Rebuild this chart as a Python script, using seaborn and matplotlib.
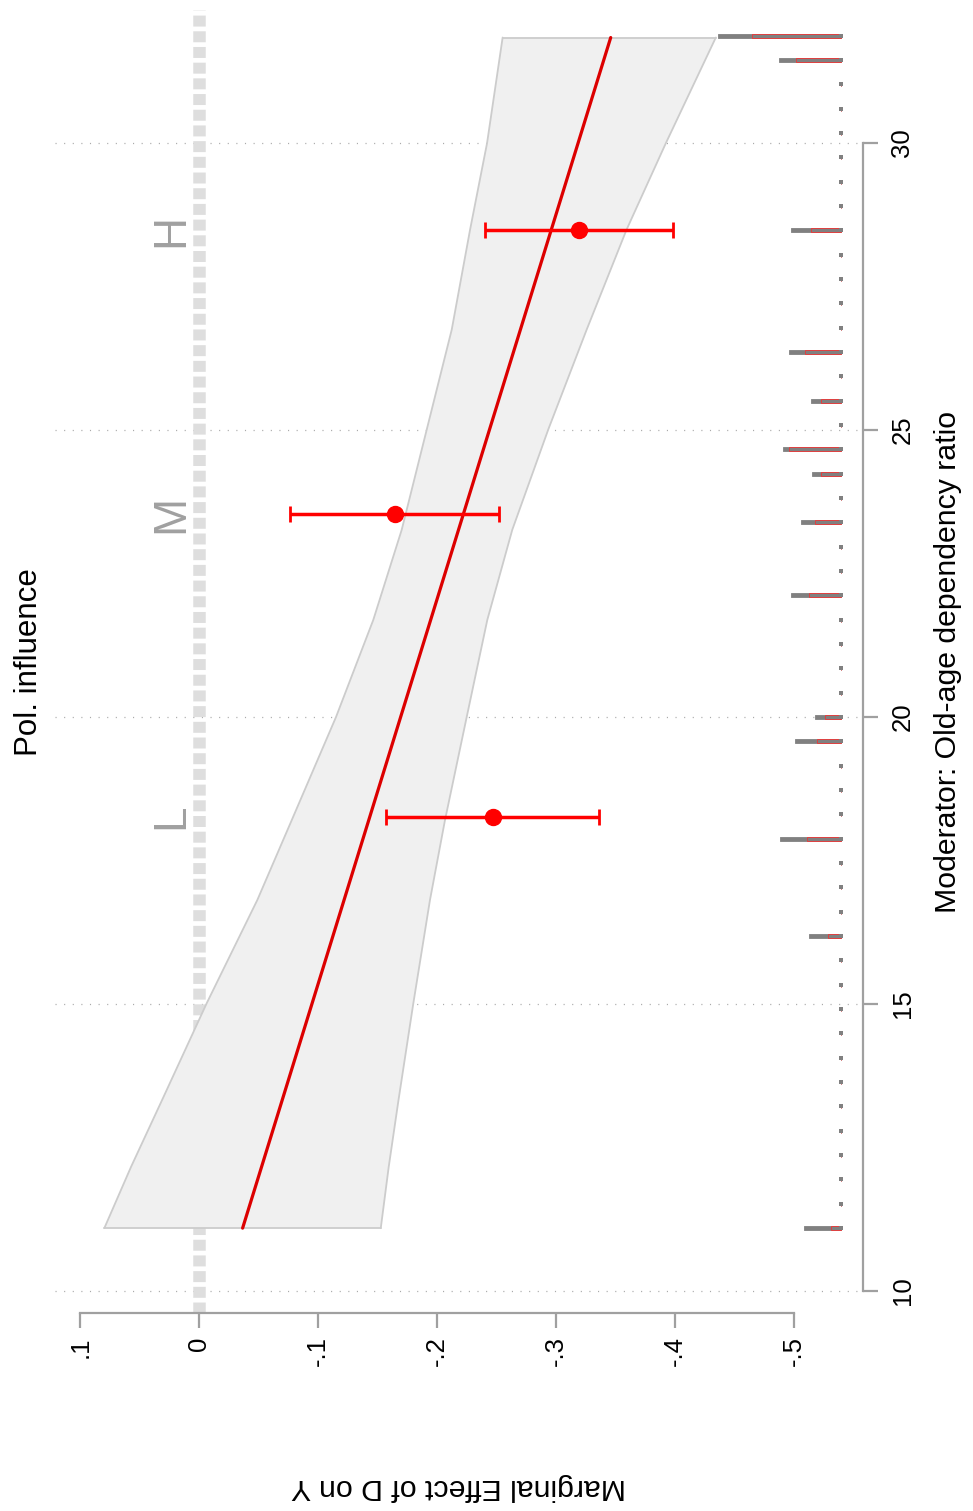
import numpy as np
import pandas as pd
import matplotlib
matplotlib.use("Agg")
import matplotlib.pyplot as plt
import seaborn as sns

# ---------------- data ----------------
mod_ticks = [10, 15, 20, 25, 30]
me_ticks = [0.1, 0.0, -0.1, -0.2, -0.3, -0.4, -0.5]
me_tick_labels = [".1", "0", "-.1", "-.2", "-.3", "-.4", "-.5"]

# linear marginal effect
line_mod = [11.09, 31.84]
line_me = [-0.0364, -0.346]

# confidence band
ci_mod = [11.09, 12.16, 13.32, 15.01, 16.81, 18.20, 20.00, 21.69, 23.26, 25.01, 26.75, 28.49, 30.00, 31.84]
ci_upper = [0.0799, 0.0574, 0.0314, -0.0062, -0.0488, -0.0777, -0.1150, -0.1463, -0.1702, -0.1913, -0.2123, -0.2277, -0.2420, -0.2551]
ci_lower = [-0.1526, -0.1593, -0.1675, -0.1800, -0.1940, -0.2066, -0.2249, -0.2422, -0.2632, -0.2935, -0.3258, -0.3593, -0.3924, -0.4344]

# binning estimates
bin_labels = ["L", "M", "H"]
bin_mod = [18.26, 23.54, 28.48]
bin_est = [-0.247, -0.1646, -0.319]
bin_ci_hi = [-0.157, -0.0763, -0.240]
bin_ci_lo = [-0.336, -0.2523, -0.398]

# histogram of the moderator (50 bins between min and max)
hist_min, hist_max, hist_nbins = 11.09, 31.87, 50
hist_total = [30.9, 0, 0, 0, 0, 0, 0, 0, 0, 0,
              0, 0, 26.7, 0, 0, 0, 50.8, 0, 0, 0,
              38.4, 21.6, 0, 0, 0, 0, 41.8, 0, 0, 33.4,
              0, 24.1, 48.5, 0, 25.0, 0, 43.5, 0, 0, 0,
              0, 41.8, 0, 0, 0, 0, 0, 0, 51.9, 103.4]
hist_treated = [8.2, 0, 0, 0, 0, 0, 0, 0, 0, 0,
                0, 0, 10.7, 0, 0, 0, 28.3, 0, 0, 0,
                19.9, 13.2, 0, 0, 0, 0, 26.7, 0, 0, 21.6,
                0, 16.6, 43.5, 0, 16.6, 0, 30.0, 0, 0, 0,
                0, 25.0, 0, 0, 0, 0, 0, 0, 37.3, 74.3]

title = "Pol. influence"
xlabel = "Moderator: Old-age dependency ratio"
ylabel = "Marginal Effect of D on Y"

# ---------------- style ----------------
sns.set_theme(style="white")
plt.rcParams["font.family"] = ["Liberation Sans", "DejaVu Sans"]
plt.rcParams["lines.scale_dashes"] = False
plt.rcParams["text.color"] = "black"
plt.rcParams["axes.labelcolor"] = "black"
plt.rcParams["xtick.labelcolor"] = "black"
plt.rcParams["ytick.labelcolor"] = "black"

W, H = 973, 1511
fig = plt.figure(figsize=(W / 100, H / 100), dpi=100)
ax_l, ax_r, ax_t, ax_b = 55, 863, 10, 1313
ax = fig.add_axes([ax_l / W, 1 - ax_b / H, (ax_r - ax_l) / W, (ax_b - ax_t) / H])

GRAY = "#a0a0a0"

# zero reference line
ax.axvline(0, color="#dedede", lw=9, dashes=(7.9, 3.4), zorder=0.8, solid_capstyle="butt")

# grid at moderator ticks
ax.set_axisbelow(True)
ax.grid(axis="y", color="#aaaaaa", lw=0.9, linestyle=(0, (0.8, 5.4)))
ax.grid(axis="x", visible=False)

# confidence band
ax.fill_betweenx(ci_mod, ci_lower, ci_upper, facecolor="#f0f0f0", edgecolor="none", zorder=1)
band_edge = dict(color="#cccccc", lw=1.3, zorder=1.2, solid_joinstyle="round")
ax.plot(ci_upper, ci_mod, **band_edge)
ax.plot(ci_lower, ci_mod, **band_edge)
ax.plot([ci_upper[0], ci_lower[0]], [ci_mod[0], ci_mod[0]], **band_edge)
ax.plot([ci_upper[-1], ci_lower[-1]], [ci_mod[-1], ci_mod[-1]], **band_edge)

# marginal effect line
sns.lineplot(x=line_me, y=line_mod, sort=False, color="#dc0000", lw=2.3, ax=ax, zorder=3)

# histogram
centers = np.linspace(hist_min, hist_max, hist_nbins)
scale = 0.001
base = -0.5394
ax.barh(centers, np.array(hist_total) * scale, left=base, height=0.07,
        color="#808080", edgecolor="#8a8a8a", lw=0.7, zorder=2)
ax.barh(centers, np.array(hist_treated) * scale, left=base, height=0.07,
        facecolor="none", edgecolor="#e04040", lw=0.7, zorder=2.1)
ax.scatter(np.full(hist_nbins, base), centers, marker="s", s=11, color="#808080",
           linewidths=0, zorder=2.2)

# binning estimates
est = np.array(bin_est)
xerr = np.vstack([est - np.array(bin_ci_lo), np.array(bin_ci_hi) - est])
ax.errorbar(bin_est, bin_mod, xerr=xerr, fmt="o", color="#ff0000", ms=11.5,
            elinewidth=2.5, capsize=6, capthick=2, zorder=4)
for lab, m in zip(bin_labels, bin_mod):
    ax.text(0.0238, m, lab, rotation=90, ha="center", va="center",
            fontsize=33, color=GRAY, zorder=4)

# limits
ax.set_xlim(0.1214, -0.5582)
ax.set_ylim(9.611, 32.32)

# axes styling
for s in ["left", "top"]:
    ax.spines[s].set_visible(False)
ax.spines["right"].set_bounds(10, 30)
ax.spines["bottom"].set_bounds(-0.5, 0.1)
for s in ["right", "bottom"]:
    ax.spines[s].set_color(GRAY)
    ax.spines[s].set_linewidth(1.6)

ax.set_xticks(me_ticks)
ax.set_xticklabels(me_tick_labels, rotation=90, fontsize=18.5)
ax.yaxis.tick_right()
ax.set_yticks(mod_ticks)
ax.set_yticklabels([str(t) for t in mod_ticks], rotation=90, fontsize=18.5, va="center")
ax.tick_params(axis="x", bottom=True, length=10.8, width=1.6, color=GRAY, pad=6, labelcolor="black")
ax.tick_params(axis="y", right=True, left=False, length=10.8, width=1.6, color=GRAY, pad=9, labelcolor="black")

xl = ax.set_xlabel(ylabel, rotation=180, fontsize=21.8, va="center", ha="center", color="black")
ax.xaxis.set_label_coords(0.5, -0.1335)
ax.yaxis.set_label_position("right")
yl = ax.set_ylabel(xlabel, rotation=90, fontsize=21.8, va="center", ha="center", color="black")
ax.yaxis.set_label_coords(1.105, 0.5)

fig.text(29 / W, 1 - 662 / H, title, rotation=90, ha="center", va="center",
         fontsize=22.5, color="black")

fig.savefig("out.png", dpi=100, facecolor="white")
